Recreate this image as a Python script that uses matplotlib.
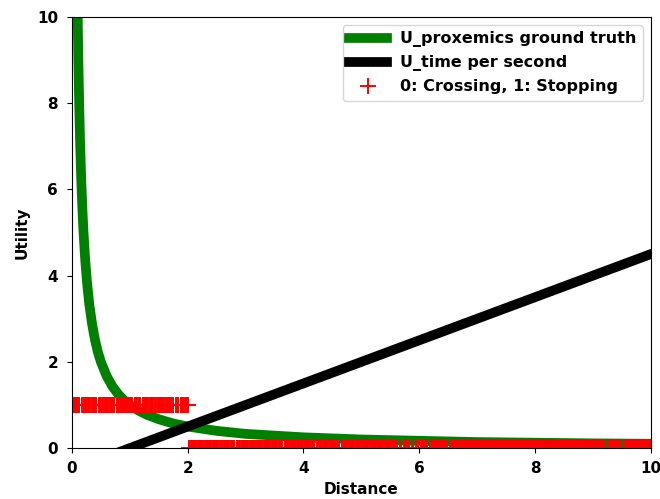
import matplotlib

matplotlib.use("Agg")
import matplotlib.pyplot as plt

# U_proxemics ground truth
prox_x = [0.1, 0.11, 0.125, 0.14, 0.16, 0.18, 0.2, 0.23, 0.26, 0.3, 0.35, 0.4, 0.45,
          0.5, 0.6, 0.7, 0.8, 0.9, 1.0, 1.15, 1.3, 1.5, 1.75, 2.0, 2.5, 3.0, 3.5,
          4.0, 5.0, 6.0, 7.0, 8.0, 9.0, 10.0]
prox_y = [10.0, 9.09, 8.0, 7.14, 6.25, 5.56, 5.0, 4.35, 3.85, 3.33, 2.86, 2.5, 2.22,
          2.0, 1.67, 1.43, 1.25, 1.11, 1.0, 0.87, 0.77, 0.67, 0.57, 0.5, 0.4, 0.33, 0.29,
          0.25, 0.2, 0.17, 0.14, 0.125, 0.11, 0.1]

# U_time per second
time_x = [0.0, 10.0]
time_y = [-0.5, 4.5]

# observed decisions: 1 = stopping (short distances), 0 = crossing
stop_x = [0.01, 0.03, 0.05, 0.07, 0.09, 0.11, 0.13, 0.18, 0.2, 0.22, 0.24, 0.26, 0.28,
          0.3, 0.32, 0.34, 0.36, 0.38, 0.4, 0.42, 0.47, 0.49, 0.51, 0.53, 0.55, 0.57,
          0.59, 0.61, 0.63, 0.65, 0.67, 0.69, 0.71, 0.73, 0.78, 0.8, 0.82, 0.84, 0.86,
          0.88, 0.9, 0.92, 0.94, 0.96, 0.98, 1.0, 1.02, 1.04, 1.09, 1.11, 1.13, 1.15,
          1.17, 1.22, 1.24, 1.26, 1.28, 1.3, 1.32, 1.34, 1.36, 1.38, 1.4, 1.44, 1.46,
          1.48, 1.5, 1.52, 1.54, 1.56, 1.58, 1.6, 1.64, 1.66, 1.68, 1.7, 1.72, 1.74,
          1.79, 1.81, 1.83, 1.88, 1.9, 1.92, 1.96, 1.98, 2.0]
stop_y = [1] * len(stop_x)

cross_x = [
    2.03, 2.05, 2.07, 2.09, 2.11, 2.13, 2.15, 2.17, 2.19, 2.21, 2.23, 2.25, 2.29, 2.31,
    2.33, 2.35, 2.37, 2.39, 2.41, 2.43, 2.45, 2.47, 2.49, 2.51, 2.53, 2.55, 2.6, 2.62,
    2.64, 2.66, 2.68, 2.7, 2.72, 2.74, 2.76, 2.78, 2.8, 2.85, 2.87, 2.89, 2.91, 2.93,
    2.95, 2.97, 2.99,
    3.01, 3.03, 3.05, 3.07, 3.09, 3.11, 3.13, 3.15, 3.17, 3.19, 3.21, 3.23, 3.25, 3.27,
    3.29, 3.31, 3.33, 3.35, 3.37, 3.39, 3.41, 3.43, 3.45, 3.47, 3.49, 3.51, 3.53, 3.55,
    3.57, 3.59, 3.61, 3.63, 3.68, 3.7, 3.72, 3.74, 3.76, 3.78, 3.8, 3.82, 3.84, 3.86,
    3.88, 3.9, 3.92, 3.94, 3.96, 3.98,
    4.0, 4.02, 4.04, 4.06, 4.08, 4.1, 4.12, 4.14, 4.16, 4.18, 4.23, 4.25, 4.27, 4.29,
    4.31, 4.33, 4.35, 4.37, 4.39, 4.41, 4.43, 4.45, 4.47, 4.49, 4.51, 4.53, 4.55, 4.57,
    4.59, 4.61, 4.66, 4.68, 4.7, 4.72, 4.74, 4.76, 4.78, 4.8, 4.82, 4.84, 4.86, 4.88,
    4.9, 4.92, 4.94, 4.96, 4.98,
    5.0, 5.02, 5.04, 5.06, 5.08, 5.1, 5.12, 5.14, 5.16, 5.18, 5.2, 5.22, 5.24, 5.26,
    5.28, 5.3, 5.32, 5.34, 5.36, 5.38, 5.4, 5.42, 5.44, 5.46, 5.48, 5.5, 5.52, 5.54,
    5.56, 5.58, 5.6, 5.62, 5.67, 5.69, 5.74, 5.76, 5.78, 5.8, 5.82, 5.87, 5.89, 5.94,
    5.96, 5.98,
    6.03, 6.05, 6.07, 6.09, 6.11, 6.13, 6.18, 6.2, 6.22, 6.24, 6.26, 6.28, 6.3, 6.32,
    6.34, 6.36, 6.38, 6.4, 6.42, 6.44, 6.46, 6.48, 6.53, 6.55, 6.57, 6.59, 6.61, 6.63,
    6.65, 6.67, 6.69, 6.71, 6.73, 6.75, 6.77, 6.79, 6.81, 6.83, 6.85, 6.87, 6.89, 6.91,
    6.93, 6.95, 6.97, 6.99,
    7.01, 7.03, 7.05, 7.07, 7.09, 7.11, 7.13, 7.15, 7.2, 7.22, 7.24, 7.26, 7.28, 7.3,
    7.35, 7.37, 7.39, 7.41, 7.43, 7.45, 7.47, 7.49, 7.51, 7.53, 7.55, 7.57, 7.59, 7.61,
    7.63, 7.65, 7.67, 7.69, 7.71, 7.73, 7.75, 7.77, 7.79, 7.81, 7.83, 7.85, 7.87, 7.89,
    7.91, 7.93, 7.95, 7.97, 7.99,
    8.01, 8.03, 8.05, 8.07, 8.09, 8.11, 8.13, 8.15, 8.17, 8.19, 8.21, 8.23, 8.25, 8.27,
    8.29, 8.31, 8.33, 8.35, 8.37, 8.39, 8.41, 8.43, 8.45, 8.47, 8.49, 8.51, 8.53, 8.55,
    8.57, 8.59, 8.61, 8.63, 8.65, 8.67, 8.69, 8.71, 8.76, 8.78, 8.8, 8.82, 8.84, 8.86,
    8.88, 8.9, 8.92, 8.97, 8.99,
    9.01, 9.03, 9.05, 9.07, 9.09, 9.11, 9.13, 9.15, 9.17, 9.19, 9.21, 9.26, 9.28, 9.3,
    9.32, 9.34, 9.36, 9.38, 9.4, 9.42, 9.44, 9.46, 9.48, 9.53, 9.55, 9.57, 9.59, 9.61,
    9.63, 9.65, 9.67, 9.69, 9.71, 9.73, 9.75, 9.77, 9.79, 9.81, 9.86, 9.88, 9.9, 9.92,
    9.94, 9.96, 9.98, 10.0,
]
cross_y = [0] * len(cross_x)

plt.rcParams.update({
    "font.weight": "bold",
    "axes.labelweight": "bold",
    "font.size": 11,
    "xtick.major.pad": 6,
    "ytick.major.pad": 6.5,
})

fig, ax = plt.subplots(figsize=(6.6, 4.99), dpi=100)
fig.subplots_adjust(left=0.109, right=0.986, top=0.966, bottom=0.102)

ax.plot(prox_x, prox_y, color="green", lw=7, label="U_proxemics ground truth")
ax.plot(time_x, time_y, color="black", lw=7, label="U_time per second")
ax.plot(stop_x + cross_x, stop_y + cross_y, "r+", ms=12, mew=1.4,
        label="0: Crossing, 1: Stopping")

ax.set_xlim(0, 10)
ax.set_ylim(0, 10)
ax.set_xlabel("Distance")
ax.set_ylabel("Utility", labelpad=5)
ax.legend(loc="upper right", fontsize=11.5, handlelength=2.4)

fig.savefig("out.png")
